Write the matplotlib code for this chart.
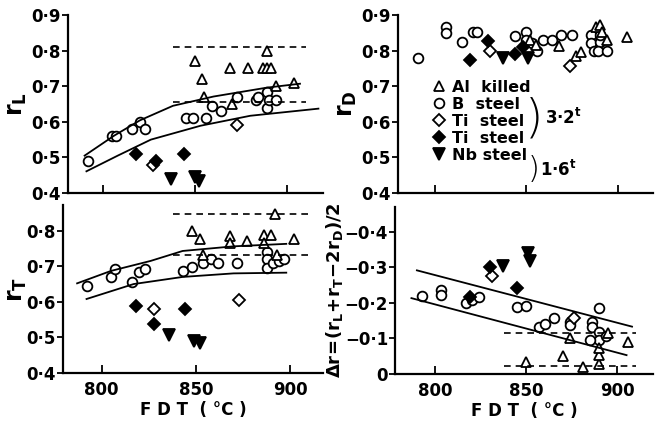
import matplotlib.pyplot as plt
from matplotlib.lines import Line2D

plt.rcParams['font.family'] = 'DejaVu Sans'
plt.rcParams['font.weight'] = 'bold'
plt.rcParams['mathtext.fontset'] = 'dejavusans'

# ---- r_L panel ----
rl_B_x = [792, 805, 807, 816, 820, 823, 845, 849, 856, 859, 864, 873, 883, 884, 889, 889, 890, 894]
rl_B_y = [0.49, 0.56, 0.56, 0.58, 0.60, 0.58, 0.61, 0.61, 0.61, 0.645, 0.63, 0.67, 0.66, 0.67, 0.685, 0.64, 0.66, 0.66]
rl_Al_x = [850, 854, 855, 869, 870, 879, 887, 889, 889, 891, 894, 904]
rl_Al_y = [0.77, 0.72, 0.67, 0.75, 0.65, 0.75, 0.75, 0.75, 0.80, 0.75, 0.70, 0.71]
rl_Ti32_x = [827, 873]
rl_Ti32_y = [0.48, 0.59]
rl_Ti16_x = [818, 829, 844]
rl_Ti16_y = [0.51, 0.49, 0.51]
rl_Nb_x = [837, 850, 852]
rl_Nb_y = [0.44, 0.445, 0.435]
rl_up_x = [790, 806, 820, 838, 860, 889, 907]
rl_up_y = [0.505, 0.561, 0.604, 0.645, 0.671, 0.696, 0.707]
rl_lo_x = [791, 808, 826, 853, 880, 917]
rl_lo_y = [0.461, 0.505, 0.550, 0.589, 0.617, 0.637]
rl_dash = [0.81, 0.655]

# ---- r_D panel ----
rd_B_x = [791, 806, 806, 815, 821, 823, 844, 850, 850, 853, 856, 859, 864, 869, 875, 885, 885, 887, 890, 889, 894, 890]
rd_B_y = [0.78, 0.865, 0.85, 0.825, 0.853, 0.853, 0.842, 0.853, 0.83, 0.82, 0.798, 0.83, 0.83, 0.843, 0.843, 0.843, 0.82, 0.80, 0.825, 0.80, 0.80, 0.843]
rd_Al_x = [852, 855, 868, 877, 880, 888, 890, 891, 894, 905]
rd_Al_y = [0.83, 0.815, 0.812, 0.785, 0.796, 0.867, 0.872, 0.853, 0.829, 0.839]
rd_Ti32_x = [830, 874]
rd_Ti32_y = [0.80, 0.758]
rd_Ti16_x = [819, 829, 844, 848]
rd_Ti16_y = [0.775, 0.826, 0.79, 0.81]
rd_Nb_x = [837, 851]
rd_Nb_y = [0.78, 0.78]

# ---- r_T panel ----
rt_B_x = [792, 805, 807, 816, 820, 823, 843, 848, 854, 858, 862, 872, 888, 888, 888, 891, 894, 897]
rt_B_y = [0.645, 0.67, 0.692, 0.656, 0.684, 0.692, 0.687, 0.699, 0.71, 0.72, 0.71, 0.71, 0.74, 0.72, 0.696, 0.71, 0.715, 0.72]
rt_Al_x = [848, 852, 854, 868, 868, 877, 886, 886, 890, 892, 893, 902]
rt_Al_y = [0.80, 0.778, 0.733, 0.786, 0.766, 0.77, 0.789, 0.766, 0.789, 0.846, 0.733, 0.778]
rt_Ti32_x = [828, 873]
rt_Ti32_y = [0.58, 0.606]
rt_Ti16_x = [818, 828, 844]
rt_Ti16_y = [0.587, 0.539, 0.58]
rt_Nb_x = [836, 849, 852]
rt_Nb_y = [0.506, 0.49, 0.483]
rt_up_x = [787, 805, 826, 843, 870, 898]
rt_up_y = [0.652, 0.687, 0.715, 0.743, 0.756, 0.763]
rt_lo_x = [792, 817, 843, 870, 898]
rt_lo_y = [0.608, 0.65, 0.670, 0.680, 0.682]
rt_dash = [0.846, 0.733]

# ---- delta r panel ----
dr_B_x = [793, 803, 803, 817, 820, 824, 845, 850, 857, 860, 865, 874, 874, 886, 886, 890, 890, 890, 885, 894]
dr_B_y = [-0.219, -0.236, -0.222, -0.199, -0.208, -0.217, -0.189, -0.191, -0.133, -0.141, -0.157, -0.147, -0.138, -0.147, -0.133, -0.185, -0.119, -0.096, -0.096, -0.107]
dr_Al_x = [850, 870, 874, 881, 890, 890, 890, 895, 906]
dr_Al_y = [-0.035, -0.051, -0.100, -0.021, -0.028, -0.053, -0.072, -0.116, -0.091]
dr_Ti32_x = [831, 876]
dr_Ti32_y = [-0.276, -0.157]
dr_Ti16_x = [819, 830, 845]
dr_Ti16_y = [-0.217, -0.300, -0.241]
dr_Nb_x = [837, 851, 852]
dr_Nb_y = [-0.304, -0.339, -0.316]
dr_up_x = [790, 908]
dr_up_y = [-0.291, -0.133]
dr_lo_x = [787, 905]
dr_lo_y = [-0.213, -0.053]
dr_dash = [-0.114, -0.022]
dash_x = [838, 910]

legend_labels = ['Al  killed', 'B  steel', 'Ti  steel', 'Ti  steel', 'Nb steel']

fig = plt.figure(figsize=(6.63, 4.23), dpi=100)
ax1 = fig.add_axes([0.1026, 0.5437, 0.3846, 0.4208])
ax2 = fig.add_axes([0.6003, 0.5437, 0.3846, 0.4208])
ax3 = fig.add_axes([0.0950, 0.1182, 0.3922, 0.3970])
ax4 = fig.add_axes([0.5958, 0.1158, 0.3891, 0.3950])

ms = dict(linestyle='none', color='black', markeredgewidth=1.3)


def points(ax, B, Al, Ti32, Ti16, Nb):
    ax.plot(*B, marker='o', ms=7, mfc='white', **ms)
    ax.plot(*Al, marker='^', ms=7.5, mfc='white', **ms)
    ax.plot(*Ti32, marker='D', ms=6, mfc='white', **ms)
    ax.plot(*Ti16, marker='D', ms=6, mfc='black', **ms)
    ax.plot(*Nb, marker='v', ms=8, mfc='black', **ms)


points(ax1, (rl_B_x, rl_B_y), (rl_Al_x, rl_Al_y), (rl_Ti32_x, rl_Ti32_y), (rl_Ti16_x, rl_Ti16_y), (rl_Nb_x, rl_Nb_y))
points(ax2, (rd_B_x, rd_B_y), (rd_Al_x, rd_Al_y), (rd_Ti32_x, rd_Ti32_y), (rd_Ti16_x, rd_Ti16_y), (rd_Nb_x, rd_Nb_y))
points(ax3, (rt_B_x, rt_B_y), (rt_Al_x, rt_Al_y), (rt_Ti32_x, rt_Ti32_y), (rt_Ti16_x, rt_Ti16_y), (rt_Nb_x, rt_Nb_y))
points(ax4, (dr_B_x, dr_B_y), (dr_Al_x, dr_Al_y), (dr_Ti32_x, dr_Ti32_y), (dr_Ti16_x, dr_Ti16_y), (dr_Nb_x, dr_Nb_y))

for ax, up, lo, dl in [(ax1, (rl_up_x, rl_up_y), (rl_lo_x, rl_lo_y), rl_dash),
                       (ax3, (rt_up_x, rt_up_y), (rt_lo_x, rt_lo_y), rt_dash),
                       (ax4, (dr_up_x, dr_up_y), (dr_lo_x, dr_lo_y), dr_dash)]:
    ax.plot(*up, color='black', lw=1.3)
    ax.plot(*lo, color='black', lw=1.3)
    for v in dl:
        ax.plot(dash_x, [v, v], color='black', lw=1.2, dashes=(4, 3))

ax1.set_ylim(0.4, 0.9)
ax2.set_ylim(0.4, 0.9)
ax3.set_ylim(0.4, 0.872)
ax4.set_ylim(0.0, -0.469)
ax1.set_xlim(781, 919.5)
ax2.set_xlim(780, 919)
ax3.set_xlim(779.5, 917.5)
ax4.set_xlim(778, 919.5)

rticks = [0.4, 0.5, 0.6, 0.7, 0.8, 0.9]
rlabels = ['0·4', '0·5', '0·6', '0·7', '0·8', '0·9']
for ax in (ax1, ax2):
    ax.set_yticks(rticks)
    ax.set_yticklabels(rlabels)
ax3.set_yticks(rticks[:-1])
ax3.set_yticklabels(rlabels[:-1])
ax4.set_yticks([0, -0.1, -0.2, -0.3, -0.4])
ax4.set_yticklabels(['0', '−0·1', '−0·2', '−0·3', '−0·4'])

for ax in (ax1, ax2, ax3, ax4):
    ax.set_xticks([800, 850, 900])
    ax.spines['top'].set_visible(False)
    ax.spines['right'].set_visible(False)
    ax.spines['left'].set_linewidth(1.6)
    ax.spines['bottom'].set_linewidth(1.6)
    ax.tick_params(axis='x', direction='in', length=6, width=1.3, labelsize=12, pad=6)
    ax.tick_params(axis='y', direction='out', length=4, width=1.3, labelsize=12, pad=1)
    ax.patch.set_alpha(0)
for ax in (ax1, ax2):
    ax.set_xticklabels([])
for ax in (ax3, ax4):
    ax.set_xticklabels(['800', '850', '900'])
    ax.set_xlabel('F D T  ( °C )', fontsize=12, fontweight='bold', labelpad=1)

ax1.set_ylabel(r'$\mathbf{r_L}$', fontsize=17, labelpad=2)
ax2.set_ylabel(r'$\mathbf{r_D}$', fontsize=17, labelpad=2)
ax3.set_ylabel(r'$\mathbf{r_T}$', fontsize=17, labelpad=-2)
ax4.set_ylabel(r'$\mathbf{\Delta r\!=\!(r_L\!+\!r_T\!-\!2r_D)/2}$', fontsize=13, labelpad=0)

handles = [
    Line2D([], [], marker='^', ms=7.5, mfc='white', **ms),
    Line2D([], [], marker='o', ms=7, mfc='white', **ms),
    Line2D([], [], marker='D', ms=6, mfc='white', **ms),
    Line2D([], [], marker='D', ms=6, mfc='black', **ms),
    Line2D([], [], marker='v', ms=8, mfc='black', **ms),
]
ax2.legend(handles, legend_labels, loc='upper left', bbox_to_anchor=(0.14, 0.635),
           frameon=False, handlelength=0.7, handletextpad=0.45, labelspacing=0.12,
           borderaxespad=0, borderpad=0, prop={'size': 11.5, 'weight': 'bold'})
ax2.text(0.535, 0.42, ')', transform=ax2.transAxes, fontsize=34, ha='center', va='center',
         fontweight='light')
ax2.text(0.575, 0.42, '3·2$^\\mathbf{t}$', transform=ax2.transAxes, fontsize=12, va='center')
ax2.text(0.53, 0.13, ')', transform=ax2.transAxes, fontsize=22, ha='center', va='center',
         fontweight='light')
ax2.text(0.555, 0.13, '1·6$^\\mathbf{t}$', transform=ax2.transAxes, fontsize=12, va='center')

fig.savefig('out.png', dpi=100)
